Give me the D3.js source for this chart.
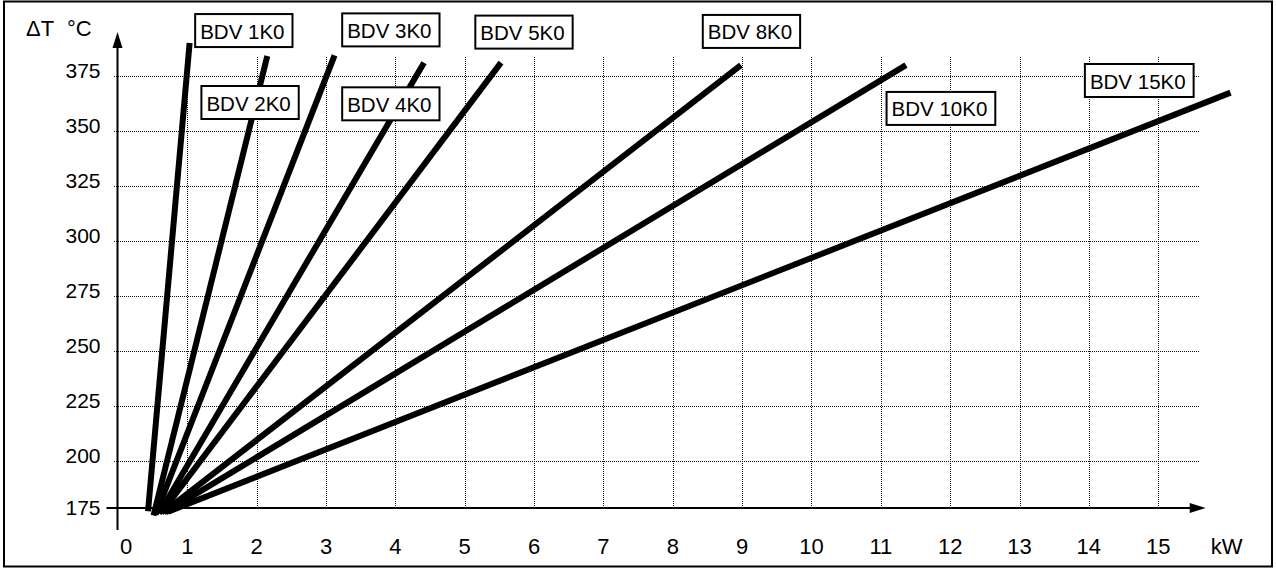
<!DOCTYPE html>
<html>
<head>
<meta charset="utf-8">
<script src="https://cdn.jsdelivr.net/npm/d3@7"></script>
<style>
  body { margin: 0; background: #fff; }
  svg { display: block; font-family: "Liberation Sans", Arial, sans-serif; }
</style>
</head>
<body>
<div id="wrapper"></div>
<script>
// heater models and their straight characteristic lines (kW vs delta T)
const models = ["BDV 1K0", "BDV 2K0", "BDV 3K0", "BDV 4K0", "BDV 5K0", "BDV 8K0", "BDV 10K0", "BDV 15K0"]
const startKW = [0.44, 0.52, 0.55, 0.60, 0.63, 0.66, 0.69, 0.73]
const startT = [173.3, 171.1, 171.6, 172.1, 172.4, 172.7, 172.7, 173.1]
const endKW = [1.04, 2.16, 3.13, 4.42, 5.53, 8.99, 11.37, 16.05]
const endT = [389.5, 383.6, 383.9, 380.6, 380.6, 379.5, 379.5, 367]

// where each label box sits (top-left corner, in chart units)
const labelKW = [1.12, 1.21, 3.24, 3.24, 5.16, 8.44, 11.09, 13.95]
const labelT = [402.7, 370, 403, 369.4, 402, 402.3, 367.3, 380]

const xTicks = [0, 1, 2, 3, 4, 5, 6, 7, 8, 9, 10, 11, 12, 13, 14, 15]
const yTicks = [175, 200, 225, 250, 275, 300, 325, 350, 375]

function drawChart() {
    d3.selectAll("svg").remove()
    const dimensions = {
        width: 1276,
        height: 569,
        margin: {top: 75, left: 117.5, right: 118.3, bottom: 61},
    }
    dimensions.boundedWidth = dimensions.width - dimensions.margin.left - dimensions.margin.right
    dimensions.boundedHeight = dimensions.height - dimensions.margin.top - dimensions.margin.bottom

    const svg = d3.select("#wrapper").append("svg")
        .attr("width", dimensions.width)
        .attr("height", dimensions.height)

    // outer frame
    svg.append("rect")
        .attr("x", 4).attr("y", 1.5)
        .attr("width", 1268).attr("height", 565)
        .attr("fill", "none").attr("stroke", "#000").attr("stroke-width", 2)

    const bounds = svg.append("g")
        .attr("transform", `translate(${dimensions.margin.left},${dimensions.margin.top})`)

    const xScale = d3.scaleLinear()
        .domain([0, 15])
        .range([0, dimensions.boundedWidth])
    // the 175 baseline sits a bit closer to 200 than the other steps
    const yScale = d3.scaleLinear()
        .domain([175, 200, 375])
        .range([dimensions.boundedHeight, dimensions.boundedHeight - 48, 0])

    drawGrid(bounds, xScale, yScale, dimensions)
    drawAxes(svg, bounds, xScale, yScale, dimensions)
    drawLines(bounds, xScale, yScale)
    drawLabels(bounds, xScale, yScale)
}

function drawGrid(bounds, xScale, yScale, dimensions) {
    const grid = bounds.append("g")
    const xGrid = d3.axisBottom(xScale)
        .tickValues(xTicks.filter(d => d > 0))
        .tickSize(-(dimensions.boundedHeight + 18))
        .tickFormat("")
    grid.append("g")
        .attr("transform", `translate(0,${dimensions.boundedHeight})`)
        .call(xGrid)
        .call(g => g.select(".domain").remove())
        .selectAll("line")
        .attr("transform", function () {
            // snap to the pixel grid so the dots stay crisp
            const x = +d3.select(this.parentNode).attr("transform").match(/\(([-\d.]+)/)[1]
            return `translate(${Math.round(x + 117.5) - 117.5 - x + 0.5},0)`
        })
    const yGrid = d3.axisLeft(yScale)
        .tickValues(yTicks.filter(d => d > 175))
        .tickSize(-(xScale(15) + 46))
        .tickFormat("")
    grid.append("g")
        .attr("transform", "translate(-4,0.5)")
        .call(yGrid)
        .call(g => g.select(".domain").remove())
    grid.selectAll("line")
        .attr("stroke", "#111")
        .attr("stroke-width", 1)
        .attr("stroke-dasharray", "1,1")
        .attr("shape-rendering", "crispEdges")
}

function drawAxes(svg, bounds, xScale, yScale, dimensions) {
    const y0 = yScale(175)
    const axisRight = xScale(15) + 48
    const axisTop = -43

    bounds.append("line")
        .attr("x1", -11).attr("x2", axisRight - 14)
        .attr("y1", y0).attr("y2", y0)
        .attr("stroke", "#000").attr("stroke-width", 2)
    bounds.append("path")
        .attr("d", `M${axisRight},${y0} l-16,-5 l0,10 z`)
        .attr("fill", "#000")

    bounds.append("line")
        .attr("x1", 0).attr("x2", 0)
        .attr("y1", y0 + 22).attr("y2", axisTop + 14)
        .attr("stroke", "#000").attr("stroke-width", 2)
    bounds.append("path")
        .attr("d", `M0,${axisTop} l-5,16 l10,0 z`)
        .attr("fill", "#000")

    const yAxis = d3.axisLeft(yScale)
        .tickValues(yTicks)
        .tickSize(0)
        .tickPadding(17)
    bounds.append("g")
        .call(yAxis)
        .call(g => g.select(".domain").remove())
        .selectAll("text")
        .attr("font-family", "Liberation Sans, Arial, sans-serif")
        .attr("font-size", 21)
        .attr("fill", "#000")
        .attr("dy", d => d === 175 ? "0.3em" : "0.1em")

    const xAxis = d3.axisBottom(xScale)
        .tickValues(xTicks)
        .tickSize(0)
        .tickPadding(30)
    bounds.append("g")
        .attr("transform", `translate(0,${y0})`)
        .call(xAxis)
        .call(g => g.select(".domain").remove())
        .selectAll("text")
        .attr("font-family", "Liberation Sans, Arial, sans-serif")
        .attr("font-size", 22)
        .attr("fill", "#000")
        .attr("dx", d => d === 0 ? 8 : 0)

    bounds.append("text")
        .attr("x", xScale(15) + 53)
        .attr("y", y0 + 46)
        .attr("font-size", 22)
        .text("kW")

    svg.append("text")
        .attr("x", 26)
        .attr("y", 36)
        .attr("font-size", 22)
        .text("\u0394T")
    svg.append("text")
        .attr("x", 67)
        .attr("y", 36)
        .attr("font-size", 22)
        .text("\u00b0C")
}

function drawLines(bounds, xScale, yScale) {
    const lineData = models.map((name, i) => [
        [startKW[i], startT[i]],
        [endKW[i], endT[i]],
    ])
    const lineGenerator = d3.line()
        .x(d => xScale(d[0]))
        .y(d => yScale(d[1]))
    bounds.append("g")
        .selectAll("path")
        .data(lineData)
        .join("path")
        .attr("d", lineGenerator)
        .attr("fill", "none")
        .attr("stroke", "#000")
        .attr("stroke-width", 6)
        .attr("stroke-linecap", "butt")
}

function drawLabels(bounds, xScale, yScale) {
    const labels = bounds.append("g")
        .selectAll("g")
        .data(models)
        .join("g")
        .attr("transform", (d, i) => `translate(${xScale(labelKW[i])},${yScale(labelT[i])})`)
    const rects = labels.append("rect")
        .attr("fill", "#fff")
        .attr("stroke", "#000")
        .attr("stroke-width", 2)
        .attr("height", 33)
    const texts = labels.append("text")
        .attr("x", 5)
        .attr("y", 24.5)
        .attr("font-size", 20.5)
        .attr("fill", "#000")
        .text(d => d)
    texts.each(function (d, i) {
        const w = this.getComputedTextLength()
        d3.select(rects.nodes()[i]).attr("width", w + 13)
    })
}

drawChart()
</script>
</body>
</html>
